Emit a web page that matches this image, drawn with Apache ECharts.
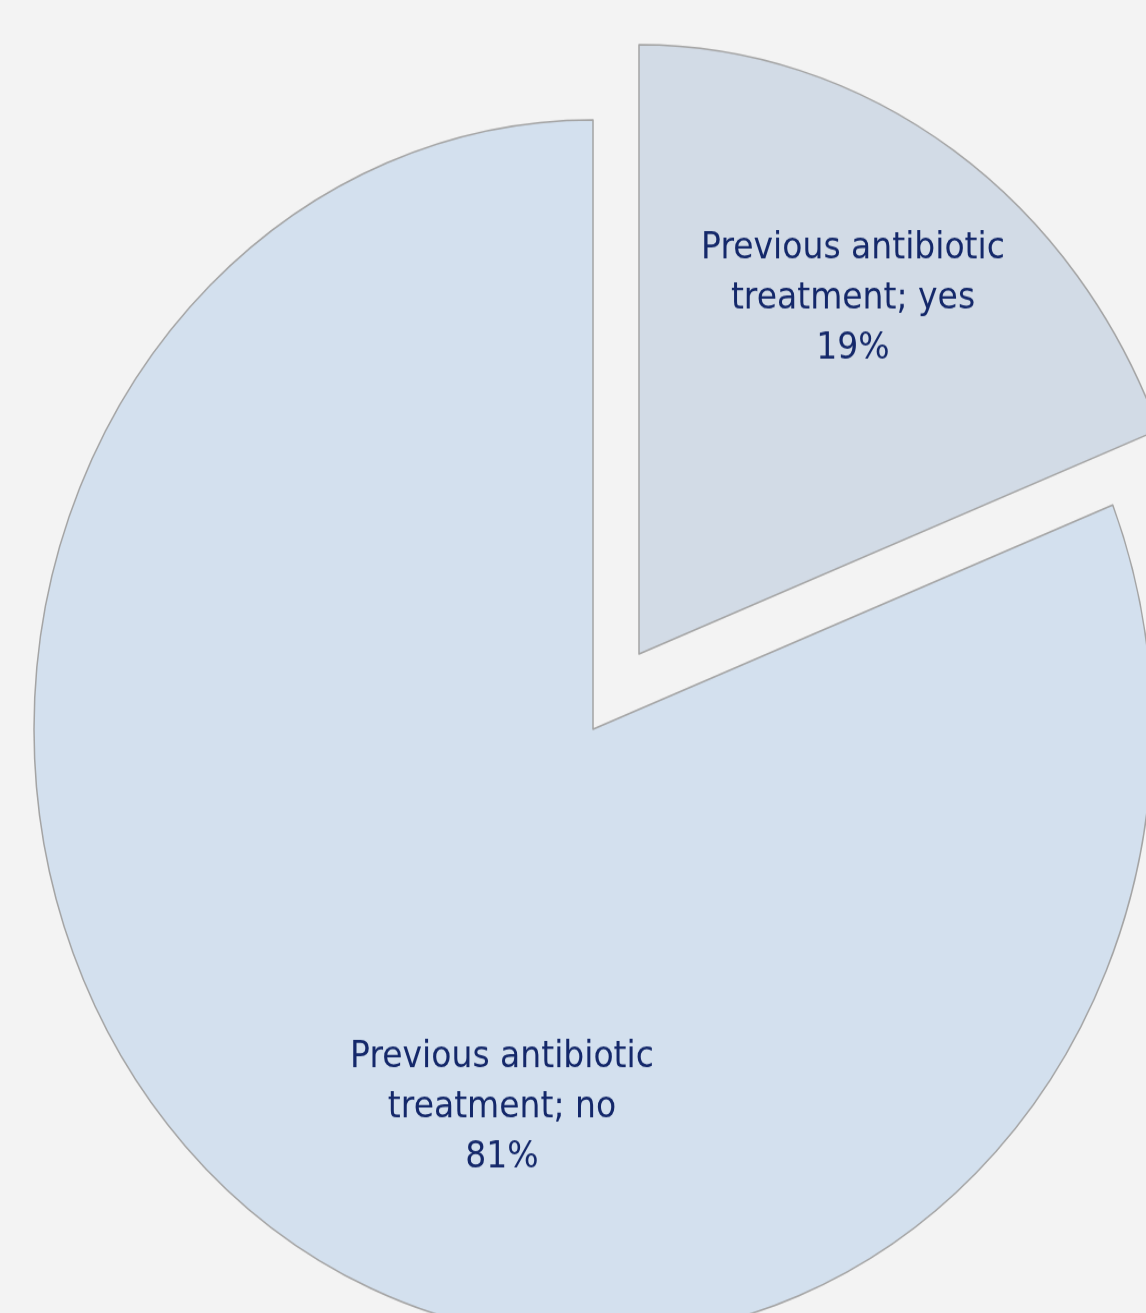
<!DOCTYPE html>
<html>
<head>
<meta charset="utf-8">
<script src="https://cdn.jsdelivr.net/npm/echarts@6/dist/echarts.min.js"></script>
<style>
  html, body { margin: 0; padding: 0; background: #f3f3f3; }
  body { height: 1313px; overflow: visible; }
  /* the pie is drawn slightly taller than wide */
  #chart { width: 1146px; height: 1205px; transform: scaleY(1.09); transform-origin: 0 0; }
</style>
</head>
<body>
<div id="chart"></div>
<script>
const categories = ['Previous antibiotic\ntreatment; yes', 'Previous antibiotic\ntreatment; no'];
const shares = [19, 81];
const sliceColors = ['#d2dbe6', '#d3e0ee'];
// index of the slice pulled out of the pie
const explodedIndex = 0;
// label anchor points (chart pixels)
const labelAnchors = [[853, 274], [502, 1016]];

const pieCenter = [593, 669];
const explodedCenter = [639, 600];

const chart = echarts.init(document.getElementById('chart'), null, { renderer: 'canvas' });

// one ring per slice group: the exploded slice gets its own shifted centre,
// the other slices are drawn at the pie centre; hidden slices keep the angles
function ring(showExploded, center) {
  return {
    type: 'pie',
    center: center,
    radius: [0, 559],
    startAngle: 90,
    clockwise: true,
    silent: true,
    avoidLabelOverlap: false,
    emphasis: { disabled: true },
    label: {
      show: true,
      position: 'inside',
      formatter: '{b}\n{d}%',
      color: '#14286a',
      fontFamily: 'DejaVu Sans',
      fontSize: 33,
      lineHeight: 46,
      align: 'center'
    },
    labelLine: { show: false },
    labelLayout: function (params) {
      const p = labelAnchors[params.dataIndex];
      return { x: p[0], y: p[1], align: 'center', verticalAlign: 'middle' };
    },
    data: categories.map(function (name, i) {
      const visible = (i === explodedIndex) === showExploded;
      return {
        name: name,
        value: shares[i],
        label: { show: visible },
        itemStyle: visible
          ? { color: sliceColors[i], borderColor: '#a4a4a4', borderWidth: 1.5 }
          : { color: 'rgba(0,0,0,0)', borderWidth: 0 }
      };
    })
  };
}

chart.setOption({
  backgroundColor: '#f3f3f3',
  animation: false,
  series: [ring(false, pieCenter), ring(true, explodedCenter)]
});
</script>
</body>
</html>
